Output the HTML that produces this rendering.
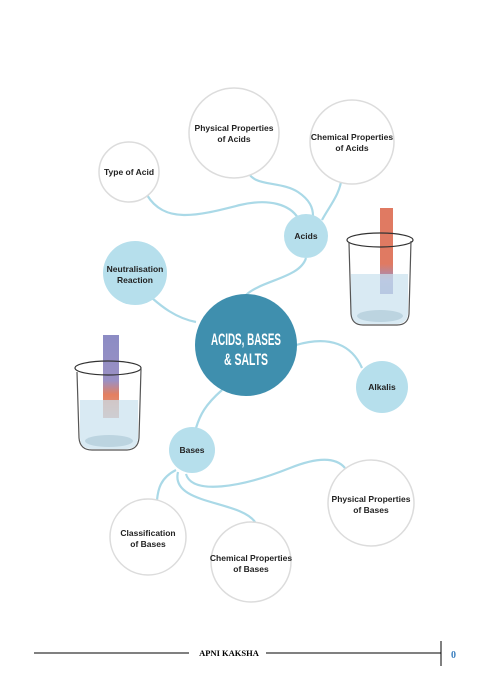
<!DOCTYPE html>
<html><head><meta charset="utf-8">
<style>
html,body{margin:0;padding:0;background:#fff;}
body{width:491px;height:685px;overflow:hidden;font-family:"Liberation Sans",sans-serif;}
</style></head><body>
<svg width="491" height="685" viewBox="0 0 491 685" xmlns="http://www.w3.org/2000/svg">
<defs>
<linearGradient id="acidTube" x1="0" y1="0" x2="0" y2="1"><stop offset="0" stop-color="#e07a62"/><stop offset="0.65" stop-color="#e07a62"/><stop offset="0.85" stop-color="#9a92c8"/><stop offset="1" stop-color="#8f8ec6"/></linearGradient>
<linearGradient id="baseTube" x1="0" y1="0" x2="0" y2="1"><stop offset="0" stop-color="#8c8cc4"/><stop offset="0.55" stop-color="#9a90c4"/><stop offset="0.72" stop-color="#e48060"/><stop offset="1" stop-color="#d9a090"/></linearGradient>
</defs>
<g fill="none" stroke="#aad9e7" stroke-width="2.2">
<path d="M246,295 C262,280 300,278 306,258"/>
<path d="M247,168 C250,188 280,180 298,192 C310,200 313,208 313,216"/>
<path d="M342,176 C340,195 330,205 322,220"/>
<path d="M147,195 C165,225 200,215 240,205 C270,198 290,205 298,218"/>
<path d="M196,322 C175,318 160,305 152,298"/>
<path d="M296,345 C330,335 352,345 362,368"/>
<path d="M222,390 C205,405 200,415 196,428"/>
<path d="M176,470 C160,478 158,490 157,500"/>
<path d="M178,472 C170,505 240,500 255,522"/>
<path d="M186,474 C192,495 240,488 290,468 C315,458 335,456 345,468"/>
</g>
<g>
<rect x="380" y="208" width="13" height="86" fill="url(#acidTube)"/>
<path d="M351,274 L408,274 L408,312 Q408,324 396,324 L362,324 Q351,324 351,312 Z" fill="#c9e1ee" opacity="0.7"/>
<ellipse cx="380" cy="240" rx="33" ry="7" fill="none" stroke="#333" stroke-width="1.2"/>
<path d="M349,243 L351,314 Q352,325 363,325 L397,325 Q408,325 409,314 L411,241" fill="none" stroke="#555" stroke-width="1.2"/>
<ellipse cx="380" cy="316" rx="23" ry="6" fill="#a9c4d3" opacity="0.6"/>
</g>
<g>
<rect x="103" y="335" width="16" height="83" fill="url(#baseTube)"/>
<path d="M80,400 L138,400 L138,437 Q138,449 126,449 L92,449 Q80,449 80,437 Z" fill="#c9e1ee" opacity="0.7"/>
<ellipse cx="108" cy="368" rx="33" ry="7" fill="none" stroke="#333" stroke-width="1.2"/>
<path d="M77,372 L79,438 Q80,450 92,450 L126,450 Q138,450 139,438 L141,369" fill="none" stroke="#555" stroke-width="1.2"/>
<ellipse cx="109" cy="441" rx="24" ry="6" fill="#a9c4d3" opacity="0.6"/>
</g>
<g font-family="Liberation Sans Narrow, Liberation Sans, sans-serif" font-weight="bold" font-size="8.5" fill="#222" text-anchor="middle">
<g><circle cx="234" cy="133" r="45" fill="#fff" stroke="#dcdcdc" stroke-width="1.5"/><text x="234" y="131">Physical Properties</text><text x="234" y="142">of Acids</text></g>
<g><circle cx="352" cy="142" r="42" fill="#fff" stroke="#dcdcdc" stroke-width="1.5"/><text x="352" y="140">Chemical Properties</text><text x="352" y="151">of Acids</text></g>
<g><circle cx="129" cy="172" r="30" fill="#fff" stroke="#dcdcdc" stroke-width="1.5"/><text x="129" y="175">Type of Acid</text></g>
<g><circle cx="306" cy="236" r="22" fill="#b6dfec"/><text x="306" y="239">Acids</text></g>
<g><circle cx="135" cy="273" r="32" fill="#b6dfec"/><text x="135" y="272">Neutralisation</text><text x="135" y="283">Reaction</text></g>
<g><circle cx="382" cy="387" r="26" fill="#b6dfec"/><text x="382" y="390">Alkalis</text></g>
<g><circle cx="192" cy="450" r="23" fill="#b6dfec"/><text x="192" y="453">Bases</text></g>
<g><circle cx="371" cy="503" r="43" fill="#fff" stroke="#dcdcdc" stroke-width="1.5"/><text x="371" y="502">Physical Properties</text><text x="371" y="513">of Bases</text></g>
<g><circle cx="148" cy="537" r="38" fill="#fff" stroke="#dcdcdc" stroke-width="1.5"/><text x="148" y="536">Classification</text><text x="148" y="547">of Bases</text></g>
<g><circle cx="251" cy="562" r="40" fill="#fff" stroke="#dcdcdc" stroke-width="1.5"/><text x="251" y="561">Chemical Properties</text><text x="251" y="572">of Bases</text></g>
<g><circle cx="246" cy="345" r="51" fill="#3f8fae"/><text x="246" y="345" fill="#fff" font-size="17" textLength="70" lengthAdjust="spacingAndGlyphs">ACIDS, BASES</text><text x="246" y="365" fill="#fff" font-size="17" textLength="44" lengthAdjust="spacingAndGlyphs">&amp; SALTS</text></g>
</g>
<g>
<line x1="34" y1="653" x2="189" y2="653" stroke="#000" stroke-width="1"/>
<text x="229" y="656" font-family="Liberation Serif, serif" font-weight="bold" font-size="8.5" text-anchor="middle" fill="#000">APNI KAKSHA</text>
<line x1="266" y1="653" x2="441" y2="653" stroke="#000" stroke-width="1"/>
<line x1="441" y1="641" x2="441" y2="666" stroke="#000" stroke-width="1"/>
<text x="451" y="658" font-family="Liberation Serif, serif" font-weight="bold" font-size="10" fill="#3a7fbf">0</text>
</g>
</svg>
</body></html>
